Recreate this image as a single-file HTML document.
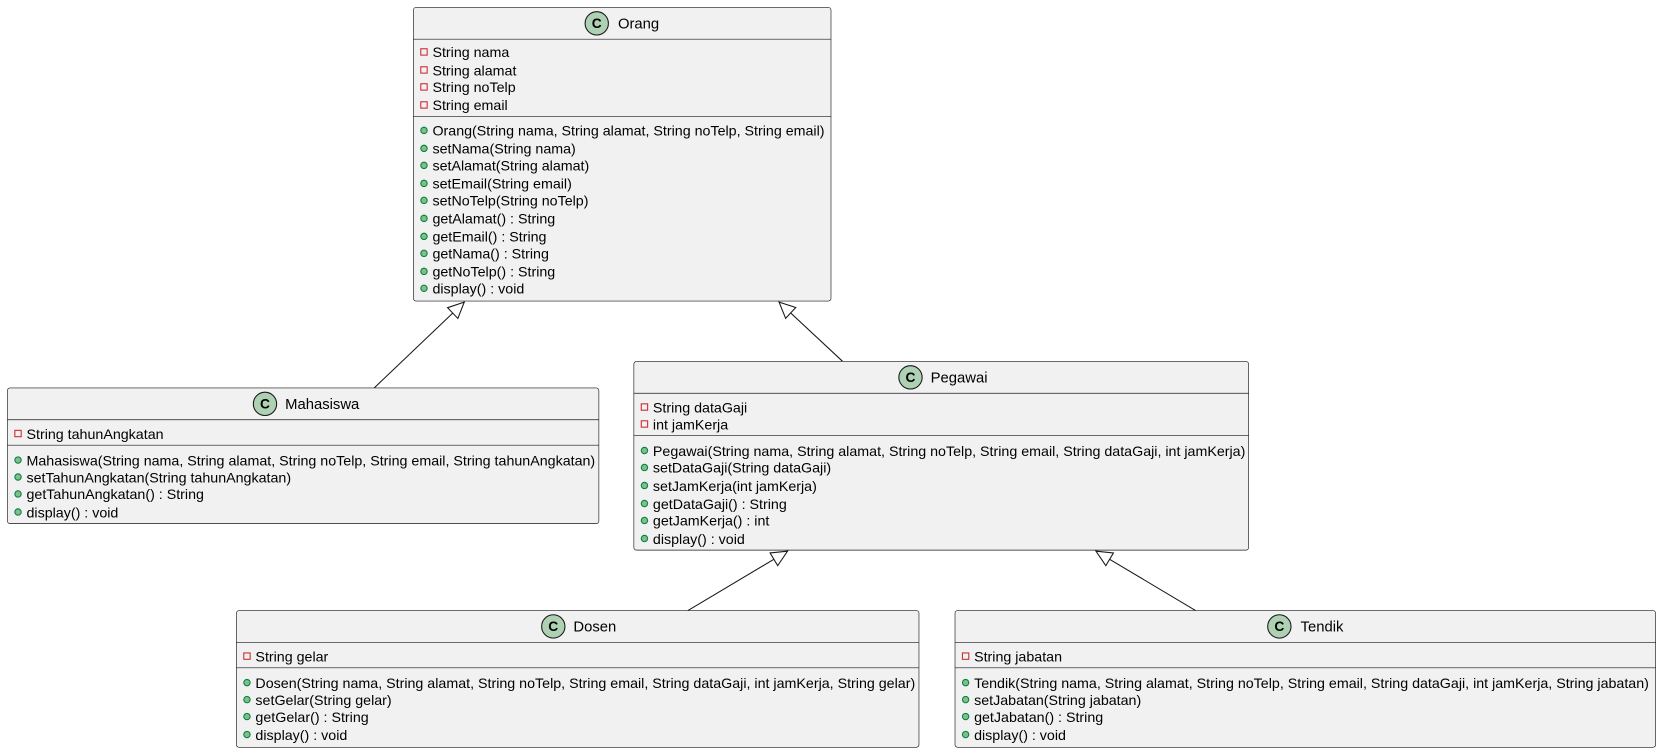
<!DOCTYPE html>
<html><head><meta charset="utf-8"><style>
html,body{margin:0;padding:0;background:#fff;}
svg{display:block;}
text{font-family:"Liberation Sans",sans-serif;font-size:13.45px;fill:#000;}
.t{font-size:14px;}
.box{fill:#F1F1F1;stroke:#181818;stroke-width:0.6;}
.dv{stroke:#181818;stroke-width:0.6;}
.pr{fill:none;stroke:#C82930;stroke-width:1;}
.pu{fill:#84BE84;stroke:#038048;stroke-width:1;}
.ci{fill:#ADD1B2;stroke:#181818;stroke-width:1;}
.ct{font-weight:bold;font-size:13px;}
.ln{stroke:#181818;stroke-width:1;fill:none;}
</style></head><body>
<svg width="1662" height="753" viewBox="0 0 1568 710.4" preserveAspectRatio="none" xmlns="http://www.w3.org/2000/svg">
<defs>
<marker id="tri" markerWidth="18" markerHeight="18" refX="16" refY="8" orient="auto" markerUnits="userSpaceOnUse">
<path d="M1,1 L16,8 L1,15 Z" fill="#fff" stroke="#181818" stroke-width="1"/>
</marker>
</defs>

<line class="ln" x1="353" y1="366" x2="438" y2="285" marker-end="url(#tri)"/>
<line class="ln" x1="795" y1="341" x2="735" y2="285" marker-end="url(#tri)"/>
<line class="ln" x1="649" y1="576" x2="743" y2="520" marker-end="url(#tri)"/>
<line class="ln" x1="1128" y1="576" x2="1034" y2="520" marker-end="url(#tri)"/>

<rect class="box" x="390" y="7" width="394" height="277" rx="2.5"/>
<line class="dv" x1="390" y1="37" x2="784" y2="37"/>
<line class="dv" x1="390" y1="110" x2="784" y2="110"/>
<circle class="ci" cx="563" cy="22" r="11"/><text class="ct" x="563" y="26.5" text-anchor="middle">C</text>
<text class="t" x="583" y="27">Orang</text>
<rect class="pr" x="397" y="46" width="6" height="6"/><text x="408" y="54">String nama</text>
<rect class="pr" x="397" y="63" width="6" height="6"/><text x="408" y="71">String alamat</text>
<rect class="pr" x="397" y="79" width="6" height="6"/><text x="408" y="87">String noTelp</text>
<rect class="pr" x="397" y="96" width="6" height="6"/><text x="408" y="104">String email</text>
<circle class="pu" cx="400" cy="123" r="3"/><text x="408" y="128">Orang(String nama, String alamat, String noTelp, String email)</text>
<circle class="pu" cx="400" cy="140" r="3"/><text x="408" y="145">setNama(String nama)</text>
<circle class="pu" cx="400" cy="156" r="3"/><text x="408" y="161">setAlamat(String alamat)</text>
<circle class="pu" cx="400" cy="173" r="3"/><text x="408" y="178">setEmail(String email)</text>
<circle class="pu" cx="400" cy="189" r="3"/><text x="408" y="194">setNoTelp(String noTelp)</text>
<circle class="pu" cx="400" cy="206" r="3"/><text x="408" y="211">getAlamat() : String</text>
<circle class="pu" cx="400" cy="223" r="3"/><text x="408" y="228">getEmail() : String</text>
<circle class="pu" cx="400" cy="239" r="3"/><text x="408" y="244">getNama() : String</text>
<circle class="pu" cx="400" cy="256" r="3"/><text x="408" y="261">getNoTelp() : String</text>
<circle class="pu" cx="400" cy="272" r="3"/><text x="408" y="277">display() : void</text>

<rect class="box" x="7" y="366" width="558" height="128" rx="2.5"/>
<line class="dv" x1="7" y1="396" x2="565" y2="396"/>
<line class="dv" x1="7" y1="420" x2="565" y2="420"/>
<circle class="ci" cx="250" cy="381" r="11"/><text class="ct" x="250" y="385.5" text-anchor="middle">C</text>
<text class="t" x="269" y="386">Mahasiswa</text>
<rect class="pr" x="14" y="406" width="6" height="6"/><text x="25" y="414">String tahunAngkatan</text>
<circle class="pu" cx="17" cy="434" r="3"/><text x="25" y="439">Mahasiswa(String nama, String alamat, String noTelp, String email, String tahunAngkatan)</text>
<circle class="pu" cx="17" cy="450" r="3"/><text x="25" y="455">setTahunAngkatan(String tahunAngkatan)</text>
<circle class="pu" cx="17" cy="466" r="3"/><text x="25" y="471">getTahunAngkatan() : String</text>
<circle class="pu" cx="17" cy="483" r="3"/><text x="25" y="488">display() : void</text>

<rect class="box" x="598" y="341" width="580" height="178" rx="2.5"/>
<line class="dv" x1="598" y1="371" x2="1178" y2="371"/>
<line class="dv" x1="598" y1="411" x2="1178" y2="411"/>
<circle class="ci" cx="859" cy="356" r="11"/><text class="ct" x="859" y="360.5" text-anchor="middle">C</text>
<text class="t" x="878" y="361">Pegawai</text>
<rect class="pr" x="605" y="381" width="6" height="6"/><text x="616" y="389">String dataGaji</text>
<rect class="pr" x="605" y="397" width="6" height="6"/><text x="616" y="405">int jamKerja</text>
<circle class="pu" cx="608" cy="425" r="3"/><text x="616" y="430">Pegawai(String nama, String alamat, String noTelp, String email, String dataGaji, int jamKerja)</text>
<circle class="pu" cx="608" cy="441" r="3"/><text x="616" y="446">setDataGaji(String dataGaji)</text>
<circle class="pu" cx="608" cy="458" r="3"/><text x="616" y="463">setJamKerja(int jamKerja)</text>
<circle class="pu" cx="608" cy="475" r="3"/><text x="616" y="480">getDataGaji() : String</text>
<circle class="pu" cx="608" cy="491" r="3"/><text x="616" y="496">getJamKerja() : int</text>
<circle class="pu" cx="608" cy="508" r="3"/><text x="616" y="513">display() : void</text>

<rect class="box" x="223" y="576" width="644" height="129" rx="2.5"/>
<line class="dv" x1="223" y1="606" x2="867" y2="606"/>
<line class="dv" x1="223" y1="630" x2="867" y2="630"/>
<circle class="ci" cx="522" cy="591" r="11"/><text class="ct" x="522" y="595.5" text-anchor="middle">C</text>
<text class="t" x="541" y="596">Dosen</text>
<rect class="pr" x="230" y="616" width="6" height="6"/><text x="241" y="624">String gelar</text>
<circle class="pu" cx="233" cy="644" r="3"/><text x="241" y="649">Dosen(String nama, String alamat, String noTelp, String email, String dataGaji, int jamKerja, String gelar)</text>
<circle class="pu" cx="233" cy="660" r="3"/><text x="241" y="665">setGelar(String gelar)</text>
<circle class="pu" cx="233" cy="676" r="3"/><text x="241" y="681">getGelar() : String</text>
<circle class="pu" cx="233" cy="693" r="3"/><text x="241" y="698">display() : void</text>

<rect class="box" x="901" y="576" width="661" height="129" rx="2.5"/>
<line class="dv" x1="901" y1="606" x2="1562" y2="606"/>
<line class="dv" x1="901" y1="630" x2="1562" y2="630"/>
<circle class="ci" cx="1207" cy="591" r="11"/><text class="ct" x="1207" y="595.5" text-anchor="middle">C</text>
<text class="t" x="1227" y="596">Tendik</text>
<rect class="pr" x="908" y="616" width="6" height="6"/><text x="919" y="624">String jabatan</text>
<circle class="pu" cx="911" cy="644" r="3"/><text x="919" y="649">Tendik(String nama, String alamat, String noTelp, String email, String dataGaji, int jamKerja, String jabatan)</text>
<circle class="pu" cx="911" cy="660" r="3"/><text x="919" y="665">setJabatan(String jabatan)</text>
<circle class="pu" cx="911" cy="676" r="3"/><text x="919" y="681">getJabatan() : String</text>
<circle class="pu" cx="911" cy="693" r="3"/><text x="919" y="698">display() : void</text>
</svg>
</body></html>
